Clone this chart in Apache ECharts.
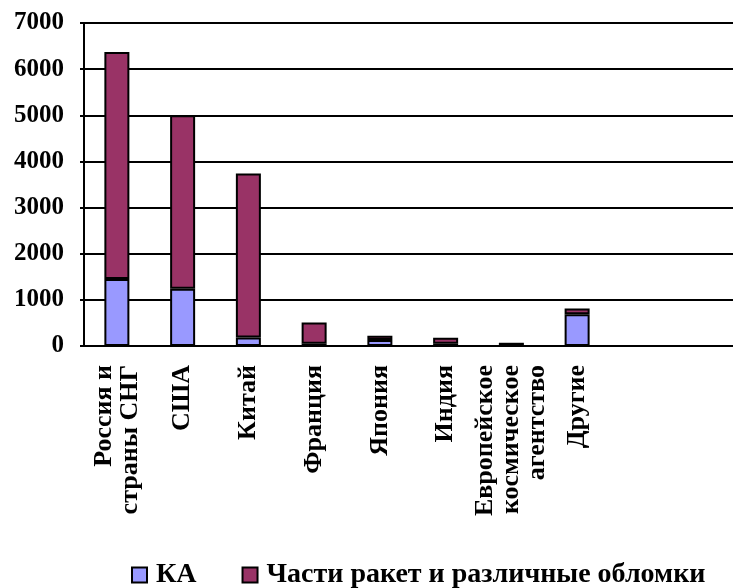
<!DOCTYPE html>
<html><head><meta charset="utf-8">
<script src="https://cdn.jsdelivr.net/npm/echarts@6/dist/echarts.min.js"></script>
<style>html,body{margin:0;padding:0;background:#fff}#c{width:733px;height:588px}</style>
</head><body><div id="c"></div>
<script>
const categories = ["Россия и\nстраны СНГ","США","Китай","Франция","Япония","Индия","Европейское\nкосмическое\nагентство","Другие"];
const seriesNames = ["КА","Части ракет и различные обломки"];
const kaValues = [1450, 1240, 185, 50, 130, 50, 20, 690];
const debrisValues = [4920, 3760, 3555, 460, 90, 130, 50, 120];
const yTicks = {min: 0, max: 7000, interval: 1000};

const font = '"Liberation Serif", "DejaVu Serif", serif';
const chart = echarts.init(document.getElementById('c'));
chart.setOption({
  animation: false,
  backgroundColor: '#fff',
  grid: [
    {left: 84, right: 123, top: 23, bottom: 242},
    {left: 84, right: -4, top: 23, bottom: 242}
  ],
  legend: {
    top: 556, left: 126,
    icon: 'rect', itemWidth: 15, itemHeight: 15, itemGap: 45,
    textStyle: {fontFamily: font, fontWeight: 'bold', fontSize: 28, color: '#000', padding: [0, 0, 0, 4]},
    data: seriesNames
  },
  xAxis: [
    {type: 'category', gridIndex: 0, data: categories,
     axisLine: {show: false}, axisTick: {show: false},
     axisLabel: {rotate: 90, interval: 0, margin: 19, fontFamily: font, fontWeight: 'bold', fontSize: 26, lineHeight: 26, color: '#000'}},
    {type: 'value', gridIndex: 1, show: false, min: 0, max: 1}
  ],
  yAxis: [
    {type: 'value', gridIndex: 0, min: yTicks.min, max: yTicks.max, interval: yTicks.interval,
     axisLine: {show: true, lineStyle: {color: '#000', width: 2}},
     axisTick: {show: true, length: 4, lineStyle: {color: '#000', width: 2}},
     splitLine: {show: false},
     axisLabel: {margin: 20, fontFamily: font, fontWeight: 'bold', fontSize: 25, color: '#000',
                 formatter: v => String(v)}},
    {type: 'value', gridIndex: 1, min: yTicks.min, max: yTicks.max, interval: yTicks.interval,
     axisLine: {show: false}, axisTick: {show: false}, axisLabel: {show: false},
     splitLine: {show: true, lineStyle: {color: '#000', width: 2}}}
  ],
  series: [
    {name: seriesNames[0], type: 'bar', stack: 's', data: kaValues, barWidth: 25,
     xAxisIndex: 0, yAxisIndex: 0,
     itemStyle: {color: '#9999FF', borderColor: '#000', borderWidth: 2}},
    {name: seriesNames[1], type: 'bar', stack: 's', data: debrisValues, barWidth: 25,
     xAxisIndex: 0, yAxisIndex: 0,
     itemStyle: {color: '#993366', borderColor: '#000', borderWidth: 2}}
  ]
});
</script></body></html>
